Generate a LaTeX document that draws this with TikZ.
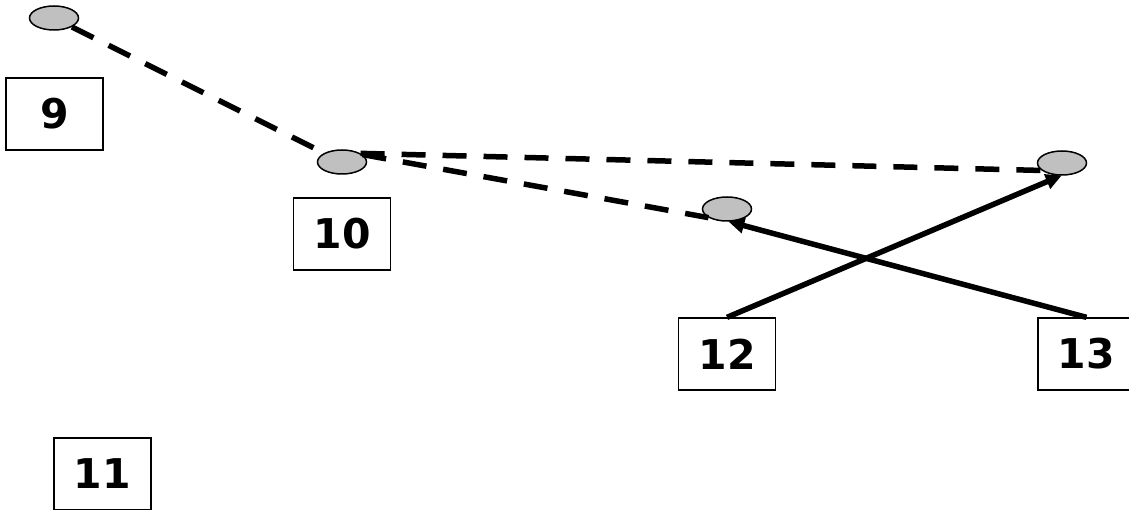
\documentclass[tikz,border=0pt]{standalone}
\usepackage{fontspec}
\setmainfont{DejaVu Sans}
\usetikzlibrary{arrows.meta,shapes.geometric}
\definecolor{ellgray}{HTML}{C0C0C0}
\tikzset{
  numbox/.style={draw, line width=1.3pt, minimum width=97pt, minimum height=72pt, inner sep=0pt,
    font=\fontsize{41}{48}\selectfont\bfseries},
  dot/.style={draw, ellipse, line width=1.5pt, fill=ellgray, minimum width=49pt, minimum height=24pt, inner sep=0pt},
  dashlink/.style={line width=5.5pt, dash pattern=on 24pt off 17pt},
  arrowlink/.style={line width=5.5pt, -{Triangle[length=16pt,width=15pt]}, shorten >=-1pt}
}
\begin{document}
\begin{tikzpicture}[x=1pt,y=-1pt]
\useasboundingbox (0,0) rectangle (1129,510);
\clip (0,0) rectangle (1129,510);
\node[dot] (A) at (54,18) {};
\node[dot] (B) at (342,162) {};
\node[dot] (C) at (727,209) {};
\node[dot] (D) at (1062,163) {};
\node[numbox] (n9) at (54.5,114) {9};
\node[numbox] (n10) at (342,234) {10};
\node[numbox] (n11) at (102.5,474) {11};
\node[numbox] (n12) at (727,354) {12};
\node[numbox] (n13) at (1086.5,354) {13};
\draw[dashlink] (A) -- (B);
\draw[dashlink] (B.25) -- (D.200);
\draw[dashlink] (B.20) -- (C.205);
\draw[arrowlink] (n12.north) -- (D.265);
\draw[arrowlink] (n13.north) -- (C.280);
\end{tikzpicture}
\end{document}
